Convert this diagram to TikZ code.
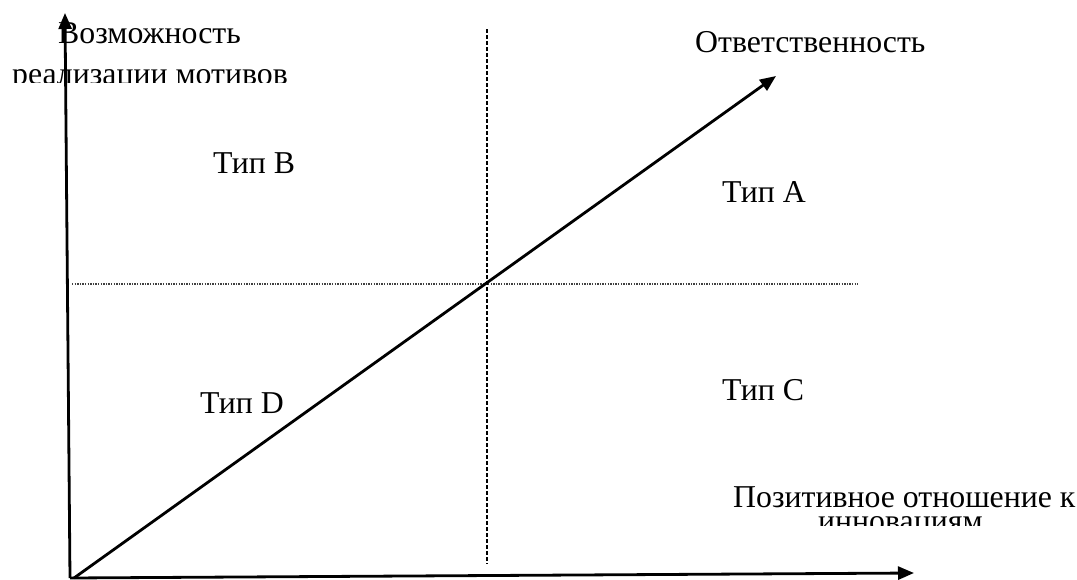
\documentclass[tikz,border=0pt]{standalone}
\usepackage{fontspec}
\setmainfont{Liberation Serif}
\usetikzlibrary{arrows.meta}
\begin{document}
\begin{tikzpicture}[x=1pt,y=-1pt,
  axis/.style={line width=2.8pt,-{Triangle[length=16pt,width=13pt]}},
  lbl/.style={anchor=base west,inner sep=0pt,font=\fontsize{31.8}{38}\selectfont},
  vdash/.style={line width=1.3pt,dash pattern=on 3.5pt off 2.5pt},
  hdot/.style={line width=1.2pt,dash pattern=on 1.3pt off 1.3pt,black!75}]
\useasboundingbox (0,0) rectangle (1077,579);
\coordinate (O) at (70,578);
\coordinate (ytip) at (65,13);
\coordinate (xtip) at (914,573);
\coordinate (d0) at (74,578);
\coordinate (rtip) at (776,76);
\coordinate (vt) at (487,29);
\coordinate (vb) at (487,564);
\coordinate (hl) at (72,284);
\coordinate (hr) at (858,284);
\draw[vdash] (vt) -- (vb);
\draw[hdot] (hl) -- (hr);
\draw[axis] (O) -- (ytip);
\draw[axis] (O) -- (xtip);
\draw[axis] (d0) -- (rtip);
\node[lbl] (v1) at (58,43) {Возможность};
\begin{scope}
\clip (0,55) rectangle (400,82);
\node[lbl] (v2) at (12,84) {реализации мотивов};
\end{scope}
\node[lbl] (resp) at (695,52) {Ответственность};
\node[lbl] (tb) at (213,173) {Тип B};
\node[lbl] (ta) at (722,202) {Тип A};
\node[lbl] (td) at (200,413) {Тип D};
\node[lbl] (tc) at (722,400) {Тип C};
\node[lbl] (p1) at (733,507) {Позитивное отношение к};
\begin{scope}
\clip (700,511) rectangle (1077,525);
\node[lbl] (p2) at (818,531) {инновациям};
\end{scope}
\end{tikzpicture}
\end{document}
